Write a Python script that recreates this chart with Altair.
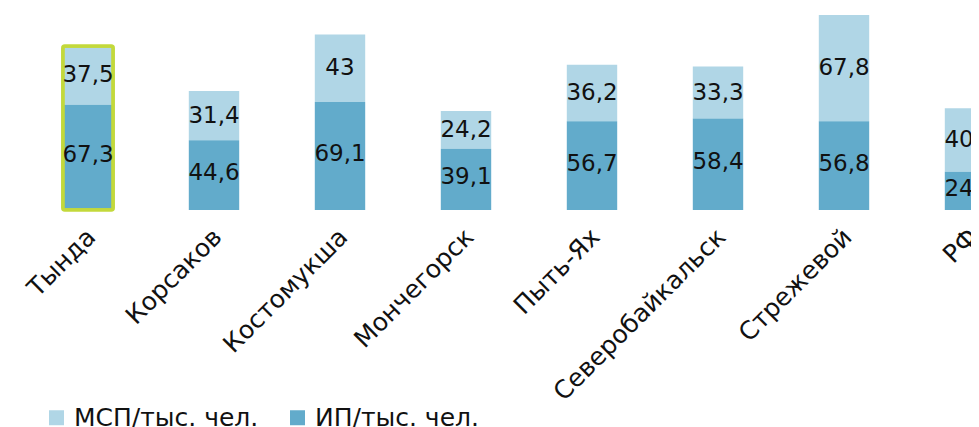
import altair as alt
import pandas as pd

cities = ["Тында", "Корсаков", "Костомукша", "Мончегорск", "Пыть-Ях",
          "Северобайкальск", "Стрежевой", "РФ"]
ip_values = [67.3, 44.6, 69.1, 39.1, 56.7, 58.4, 56.8, 24.5]
msp_values = [37.5, 31.4, 43, 24.2, 36.2, 33.3, 67.8, 40.5]
highlight = [True, False, False, False, False, False, False, False]

series_names = ["МСП/тыс. чел.", "ИП/тыс. чел."]
series_colors = ["#b0d6e6", "#62abcb"]

wide = pd.DataFrame({"city": cities, "ip": ip_values, "msp": msp_values,
                     "hl": highlight})

FONT = "DejaVu Sans"
FS = 23
FS_AX = 25

x_enc = alt.X("city:N", sort=cities, title=None,
              scale=alt.Scale(range=[0, 1008], paddingInner=0.6, paddingOuter=0.3),
              axis=alt.Axis(labelAngle=-45, labelFontSize=FS_AX, labelFont=FONT,
                            labelColor="#111111", domain=False, ticks=False,
                            labelPadding=14, labelOffset=-5, labelLimit=400))
y_scale = alt.Scale(domain=[0, 129.1], nice=False)

base = alt.Chart(wide)

bars = base.transform_fold(["msp", "ip"], as_=["key", "value"]).transform_calculate(
    series="datum.key == 'ip' ? 'ИП/тыс. чел.' : 'МСП/тыс. чел.'",
    ord="datum.key == 'ip' ? 0 : 1"
).mark_bar().encode(
    x=x_enc,
    y=alt.Y("value:Q", stack="zero", scale=y_scale, axis=None),
    color=alt.Color("series:N", scale=alt.Scale(domain=series_names, range=series_colors),
                    legend=alt.Legend(title=None, orient="none", legendX=19, legendY=397,
                                      direction="horizontal", symbolType="square",
                                      symbolSize=225, symbolStrokeWidth=0,
                                      labelFontSize=FS_AX, labelFont=FONT, labelLimit=0,
                                      labelColor="#111111", labelOffset=5,
                                      columnPadding=26, padding=0)),
    order=alt.Order("ord:Q"),
)

frame = base.transform_filter("datum.hl").transform_calculate(
    total="datum.ip + datum.msp"
).mark_bar(fillOpacity=0, stroke="#c3d93b", strokeWidth=3.5, cornerRadius=2).encode(
    x=x_enc,
    y=alt.Y("total:Q", scale=y_scale, axis=None),
)

txt_ip = base.transform_calculate(
    mid="datum.ip / 2", lab="replace(toString(datum.ip), '.', ',')"
).mark_text(fontSize=FS, font=FONT, color="#111111", baseline="middle", dy=-2).encode(
    x=x_enc, y=alt.Y("mid:Q", scale=y_scale, axis=None), text="lab:N")

txt_msp = base.transform_calculate(
    mid="datum.ip + datum.msp / 2", lab="replace(toString(datum.msp), '.', ',')"
).mark_text(fontSize=FS, font=FONT, color="#111111", baseline="middle").encode(
    x=x_enc, y=alt.Y("mid:Q", scale=y_scale, axis=None), text="lab:N")

chart = alt.layer(bars, frame, txt_ip, txt_msp).properties(
    width=946, height=202,
    autosize=alt.AutoSizeParams(type="none"),
    padding={"left": 17, "top": 0, "right": 0, "bottom": 217},
).configure_view(stroke=None)

chart.save("out.html", embed_options={"renderer": "svg", "actions": False})
